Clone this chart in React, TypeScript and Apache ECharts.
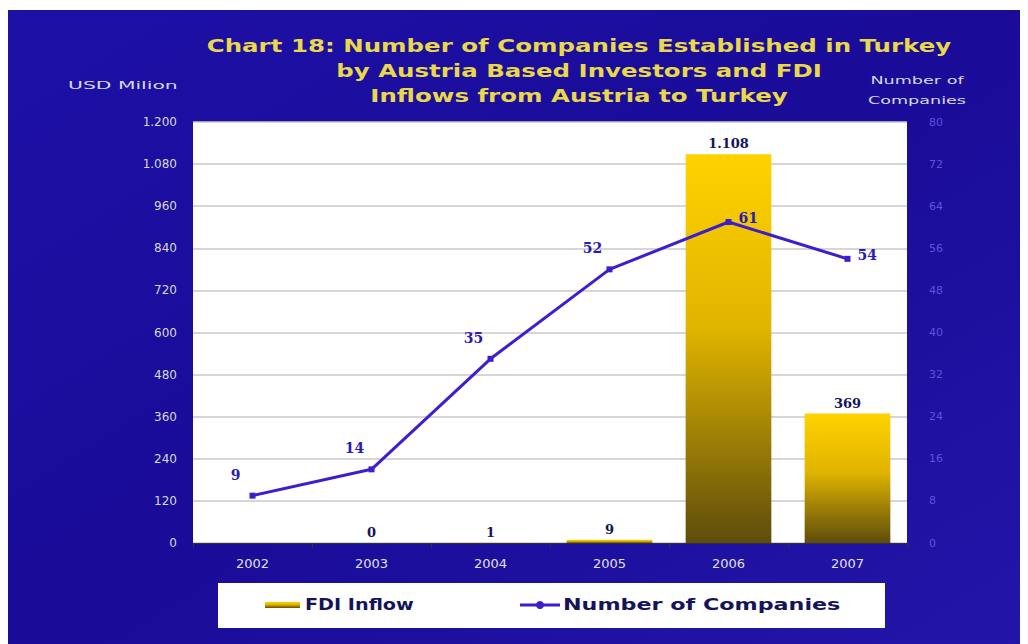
import React, { useEffect, useRef } from "react";
import * as echarts from "echarts";

const years = ["2002", "2003", "2004", "2005", "2006", "2007"];
const fdiInflow: (number | null)[] = [null, 0, 1, 9, 1108, 369];
const companies = [9, 14, 35, 52, 61, 54];
const leftTickMax = 1200;
const leftTickStep = 120;
const rightTickMax = 80;
const rightTickStep = 8;
const titleLines = [
  "Chart 18: Number of Companies Established in Turkey",
  "by Austria Based Investors and FDI",
  "Inflows from Austria to Turkey",
];
const legendNames = ["FDI Inflow", "Number of Companies"];

const fmtThousands = (v: number) => {
  const s = String(Math.round(v));
  return s.length > 3 ? s.slice(0, s.length - 3) + "." + s.slice(-3) : s;
};

export default function App() {
  const ref = useRef<HTMLDivElement>(null);
  useEffect(() => {
    if (!ref.current) return;
    const chart = echarts.init(ref.current, null, { renderer: "svg" });
    const font = "DejaVu Sans";
    const barGradient = () =>
      new echarts.graphic.LinearGradient(0, 0, 0, 1, [
        { offset: 0, color: "#ffd200" },
        { offset: 0.45, color: "#e0b400" },
        { offset: 1, color: "#5e4c0c" },
      ]);
    chart.setOption({
      animation: false,
      backgroundColor: "#ffffff",
      textStyle: { fontFamily: font },
      graphic: [
        {
          type: "rect",
          z: -10,
          silent: true,
          shape: { x: 8, y: 10, width: 1012, height: 634 },
          style: {
            fill: new echarts.graphic.LinearGradient(0, 0, 1, 1, [
              { offset: 0, color: "#1d10a6" },
              { offset: 0.5, color: "#1a0c98" },
              { offset: 1, color: "#2315a8" },
            ]),
          },
        },
        {
          type: "rect",
          z: -5,
          silent: true,
          shape: { x: 218, y: 583, width: 667, height: 45 },
          style: { fill: "#ffffff" },
        },
        ...titleLines.map((t, i) => ({
          type: "text",
          x: 579,
          y: 46 + i * 25,
          scaleX: 1.36,
          style: {
            text: t,
            fill: "#e8d84a",
            font: `bold 18px "${font}"`,
            align: "center",
            verticalAlign: "middle",
          },
        })),
        {
          type: "text",
          x: 68,
          y: 85,
          scaleX: 1.85,
          style: {
            text: "USD Milion",
            fill: "#d8d8e0",
            font: `11px "${font}"`,
            verticalAlign: "middle",
          },
        },
        {
          type: "text",
          x: 917,
          y: 80,
          scaleX: 1.6,
          style: {
            text: "Number of",
            fill: "#d8d8e0",
            font: `11px "${font}"`,
            align: "center",
            verticalAlign: "middle",
          },
        },
        {
          type: "text",
          x: 917,
          y: 100,
          scaleX: 1.6,
          style: {
            text: "Companies",
            fill: "#d8d8e0",
            font: `11px "${font}"`,
            align: "center",
            verticalAlign: "middle",
          },
        },
        // legend
        {
          type: "rect",
          shape: { x: 265, y: 602, width: 35, height: 6 },
          style: { fill: barGradient() },
        },
        {
          type: "text",
          x: 305,
          y: 605,
          scaleX: 1.2,
          style: {
            text: legendNames[0],
            fill: "#14145a",
            font: `bold 16px "${font}"`,
            verticalAlign: "middle",
          },
        },
        {
          type: "line",
          shape: { x1: 520, y1: 605, x2: 560, y2: 605 },
          style: { stroke: "#3a1ed0", lineWidth: 3 },
        },
        {
          type: "circle",
          shape: { cx: 540, cy: 605, r: 4 },
          style: { fill: "#3a1ed0" },
        },
        {
          type: "text",
          x: 563,
          y: 605,
          scaleX: 1.39,
          style: {
            text: legendNames[1],
            fill: "#14145a",
            font: `bold 16px "${font}"`,
            verticalAlign: "middle",
          },
        },
      ],
      grid: {
        left: 193,
        right: 121,
        top: 122,
        bottom: 101,
        show: true,
        backgroundColor: "#ffffff",
        borderWidth: 0,
      },
      xAxis: {
        type: "category",
        data: years,
        axisLine: { lineStyle: { color: "#303040" } },
        axisTick: { show: true, alignWithLabel: false, lineStyle: { color: "#303040" } },
        axisLabel: { color: "#e0e0e8", fontSize: 13, margin: 14 },
      },
      yAxis: [
        {
          type: "value",
          min: 0,
          max: leftTickMax,
          interval: leftTickStep,
          axisLine: { show: false },
          axisTick: { show: false },
          splitLine: { lineStyle: { color: "#c8c8c8", width: 1.5 } },
          axisLabel: {
            color: "#d8d8c8",
            fontSize: 12,
            margin: 16,
            formatter: (v: number) => fmtThousands(v),
          },
        },
        {
          type: "value",
          min: 0,
          max: rightTickMax,
          interval: rightTickStep,
          axisLine: { show: false },
          axisTick: { show: false },
          splitLine: { show: false },
          axisLabel: { color: "#5e52dc", fontSize: 11, margin: 22 },
        },
      ],
      series: [
        {
          name: legendNames[0],
          type: "bar",
          yAxisIndex: 0,
          barWidth: "72%",
          data: fdiInflow,
          itemStyle: { color: barGradient() },
          label: {
            show: true,
            position: "top",
            distance: 4,
            color: "#14145a",
            fontWeight: "bold",
            fontSize: 13,
            fontFamily: "DejaVu Serif",
            formatter: (p: any) => (p.value == null ? "" : fmtThousands(p.value)),
          },
        },
        {
          name: legendNames[1],
          type: "line",
          yAxisIndex: 1,
          data: companies.map((v, i) => ({
            value: v,
            label:
              i >= 4
                ? { position: "right", offset: [2, -4] }
                : { position: "top", offset: [-17, -6] },
          })),
          symbol: "rect",
          symbolSize: 6,
          lineStyle: { color: "#3a1ed0", width: 3 },
          itemStyle: { color: "#3a1ed0" },
          label: {
            show: true,
            color: "#2a1ab8",
            fontWeight: "bold",
            fontSize: 14,
            fontFamily: "DejaVu Serif",
          },
          z: 5,
        },
      ],
    });
    return () => chart.dispose();
  }, []);
  return (
    <div
      ref={ref}
      style={{ position: "fixed", left: 0, top: 0, width: 1028, height: 644 }}
    />
  );
}
